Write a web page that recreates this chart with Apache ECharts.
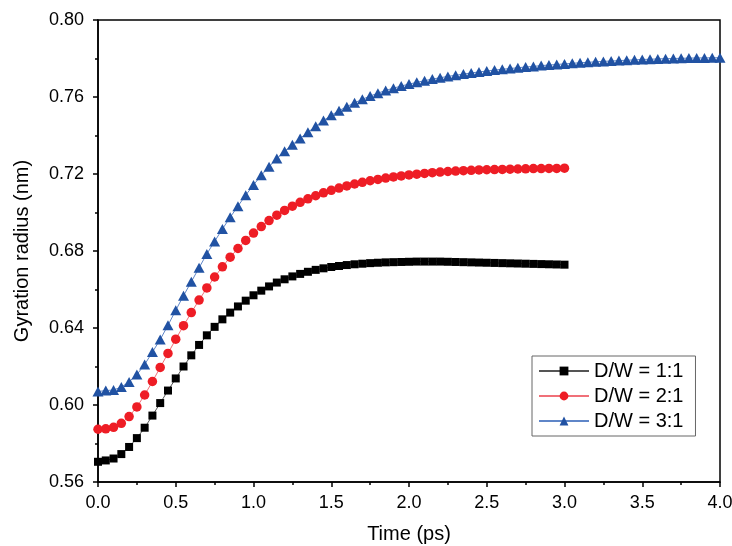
<!DOCTYPE html>
<html>
<head>
<meta charset="utf-8">
<script src="https://cdn.jsdelivr.net/npm/echarts@6/dist/echarts.min.js"></script>
<style>
  html, body { margin: 0; padding: 0; background: #fff; }
  #chart { width: 732px; height: 546px; }
</style>
</head>
<body>
<div id="chart"></div>
<script>
// Sampling step of the simulation output (ps)
const timeStep = 0.05;

// Radius of gyration (nm) for each depth/width ratio, one value per time step from 0 ps
const rg11 = [
  0.5705, 0.5712, 0.5722, 0.5745, 0.5782, 0.5828, 0.5882, 0.5945, 0.6010, 0.6075,
  0.6138, 0.6200, 0.6258, 0.6312, 0.6362, 0.6406, 0.6445, 0.6480, 0.6512, 0.6542,
  0.6570, 0.6594, 0.6616, 0.6636, 0.6653, 0.6668, 0.6681, 0.6692, 0.6702, 0.6710,
  0.6717, 0.6722, 0.6727, 0.6731, 0.6734, 0.6737, 0.6739, 0.6741, 0.6742, 0.6743,
  0.6744, 0.6745, 0.6745, 0.6745, 0.6745, 0.6744, 0.6743, 0.6742, 0.6741, 0.6740,
  0.6739, 0.6738, 0.6737, 0.6736, 0.6735, 0.6734, 0.6733, 0.6732, 0.6731, 0.6730,
  0.6729
];
const rg21 = [
  0.5874, 0.5876, 0.5884, 0.5905, 0.5940, 0.5990, 0.6052, 0.6122, 0.6195, 0.6268,
  0.6342, 0.6412, 0.6480, 0.6545, 0.6608, 0.6665, 0.6718, 0.6768, 0.6813, 0.6855,
  0.6893, 0.6927, 0.6958, 0.6986, 0.7011, 0.7033, 0.7053, 0.7071, 0.7087, 0.7102,
  0.7115, 0.7127, 0.7138, 0.7148, 0.7157, 0.7165, 0.7172, 0.7179, 0.7185, 0.7190,
  0.7195, 0.7199, 0.7203, 0.7207, 0.7210, 0.7213, 0.7215, 0.7217, 0.7219, 0.7221,
  0.7222, 0.7223, 0.7224, 0.7225, 0.7226, 0.7227, 0.7228, 0.7228, 0.7229, 0.7229,
  0.7230
];
const rg31 = [
  0.6070, 0.6075, 0.6078, 0.6093, 0.6120, 0.6158, 0.6210, 0.6275, 0.6340, 0.6414,
  0.6492, 0.6568, 0.6640, 0.6713, 0.6785, 0.6850, 0.6914, 0.6975, 0.7033, 0.7090,
  0.7143, 0.7193, 0.7238, 0.7280, 0.7318, 0.7352, 0.7385, 0.7417, 0.7448, 0.7478,
  0.7505, 0.7529, 0.7550, 0.7570, 0.7588, 0.7605, 0.7620, 0.7634, 0.7646, 0.7657,
  0.7667, 0.7676, 0.7685, 0.7693, 0.7700, 0.7707, 0.7713, 0.7719, 0.7725, 0.7730,
  0.7735, 0.7740, 0.7744, 0.7748, 0.7752, 0.7756, 0.7759, 0.7763, 0.7766, 0.7769,
  0.7772, 0.7775, 0.7778, 0.7780, 0.7783, 0.7785, 0.7787, 0.7789, 0.7791, 0.7793,
  0.7795, 0.7796, 0.7798, 0.7799, 0.7800, 0.7801, 0.7802, 0.7803, 0.7803, 0.7804,
  0.7804
];

const seriesNames = ['D/W = 1:1', 'D/W = 2:1', 'D/W = 3:1'];
const xTitle = 'Time (ps)';
const yTitle = 'Gyration radius (nm)';

// Pair each value with its time stamp
function withTime(values) {
  return values.map((v, i) => [Math.round(i * timeStep * 100) / 100, v]);
}

const FONT = '"Liberation Sans", Arial, sans-serif';
const colors = ['#000000', '#ee1d25', '#2152a3'];
const lineColors = ['#555555', '#f07078', '#5f86c8'];

const chart = echarts.init(document.getElementById('chart'), null, { renderer: 'canvas' });

function makeSeries(idx, values, symbol, size) {
  return {
    name: seriesNames[idx],
    type: 'line',
    data: withTime(values),
    symbol: symbol,
    symbolSize: size,
    showAllSymbol: true,
    clip: false,
    itemStyle: { color: colors[idx] },
    lineStyle: { color: lineColors[idx], width: 1 },
    emphasis: { disabled: true },
    animation: false
  };
}

chart.setOption({
  animation: false,
  backgroundColor: '#ffffff',
  grid: {
    left: 98, right: 12, top: 20, bottom: 64,
    outerBoundsMode: 'none',
    containLabel: false,
    show: true, borderColor: '#000', borderWidth: 1.5, backgroundColor: 'transparent'
  },
  legend: {
    left: 532, top: 356,
    orient: 'vertical',
    itemWidth: 50, itemHeight: 11, itemGap: 5,
    padding: [5, 12, 5, 6],
    borderColor: '#666', borderWidth: 1,
    backgroundColor: '#fff',
    textStyle: { fontFamily: FONT, fontSize: 20, color: '#000' },
    data: seriesNames
  },
  xAxis: {
    type: 'value', min: 0, max: 4, interval: 0.5,
    name: xTitle, nameLocation: 'middle', nameGap: 42,
    nameTextStyle: { fontFamily: FONT, fontSize: 20, color: '#000' },
    axisLine: { show: true, onZero: false, lineStyle: { color: '#000', width: 1.5 } },
    axisTick: { show: true, inside: false, length: 5, lineStyle: { color: '#000', width: 1.5 } },
    minorTick: { show: true, splitNumber: 2, length: 3, lineStyle: { color: '#000', width: 1.5 } },
    axisLabel: { fontFamily: FONT, fontSize: 18, color: '#000', margin: 12,
      formatter: v => v.toFixed(1) },
    splitLine: { show: false }
  },
  yAxis: {
    type: 'value', min: 0.56, max: 0.80, interval: 0.04,
    name: yTitle, nameLocation: 'middle', nameGap: 66,
    nameTextStyle: { fontFamily: FONT, fontSize: 20, color: '#000' },
    axisLine: { show: true, onZero: false, lineStyle: { color: '#000', width: 1.5 } },
    axisTick: { show: true, inside: false, length: 5, lineStyle: { color: '#000', width: 1.5 } },
    minorTick: { show: true, splitNumber: 2, length: 3, lineStyle: { color: '#000', width: 1.5 } },
    axisLabel: { fontFamily: FONT, fontSize: 18, color: '#000', margin: 14,
      formatter: v => v.toFixed(2) },
    splitLine: { show: false }
  },
  series: [
    makeSeries(0, rg11, 'rect', 8),
    makeSeries(1, rg21, 'circle', 9.5),
    makeSeries(2, rg31, 'triangle', [11, 10])
  ]
});
</script>
</body>
</html>
